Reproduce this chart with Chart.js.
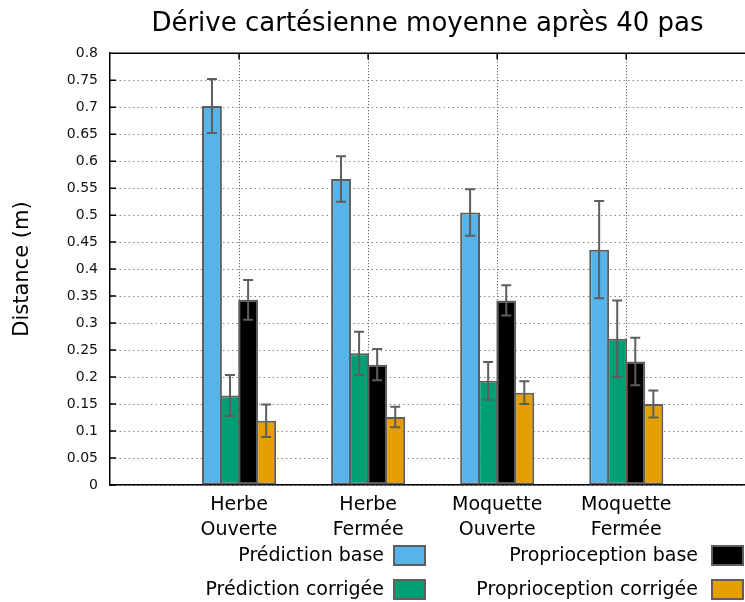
<!DOCTYPE html>
<html lang="fr">
<head>
<meta charset="utf-8">
<title>Dérive cartésienne moyenne</title>
<script src="https://cdn.jsdelivr.net/npm/chart.js@4"></script>
<style>
  body { margin: 0; background: #fff; }
  canvas { display: block; }
</style>
</head>
<body>
<canvas id="graphe" width="745" height="602"></canvas>
<script>
// terrains testés (une ligne par mot sous l'axe)
const terrains = [['Herbe', 'Ouverte'], ['Herbe', 'Fermée'], ['Moquette', 'Ouverte'], ['Moquette', 'Fermée']]
const positions = [0, 1, 2, 3]
const series = ['Prédiction base', 'Prédiction corrigée', 'Proprioception base', 'Proprioception corrigée']
const couleurs = ['#56b4e9', '#009e73', '#000000', '#e69f00']

// dérive moyenne en mètres et écart de chaque mesure
const predictionBase = [0.702, 0.567, 0.505, 0.436]
const predictionBaseErr = [0.050, 0.042, 0.043, 0.090]
const predictionCorrigee = [0.166, 0.244, 0.193, 0.271]
const predictionCorrigeeErr = [0.038, 0.040, 0.035, 0.071]
const proprioBase = [0.343, 0.223, 0.342, 0.229]
const proprioBaseErr = [0.037, 0.029, 0.028, 0.044]
const proprioCorrigee = [0.119, 0.126, 0.171, 0.150]
const proprioCorrigeeErr = [0.030, 0.019, 0.021, 0.025]

const graduations = ['0', '0.05', '0.1', '0.15', '0.2', '0.25', '0.3', '0.35', '0.4',
    '0.45', '0.5', '0.55', '0.6', '0.65', '0.7', '0.75', '0.8']

const valeurs = [predictionBase, predictionCorrigee, proprioBase, proprioCorrigee]
const erreurs = [predictionBaseErr, predictionCorrigeeErr, proprioBaseErr, proprioCorrigeeErr]

const police = 'DejaVu Sans'
const gris = '#5e5e5e'

// barres d'erreur par dessus chaque barre
const barresErreur = {
    id: 'barresErreur',
    afterDatasetsDraw(chart) {
        const ctx = chart.ctx
        const y = chart.scales.y
        ctx.save()
        ctx.strokeStyle = gris
        ctx.lineWidth = 2
        chart.data.datasets.forEach((ds, d) => {
            const meta = chart.getDatasetMeta(d)
            meta.data.forEach((barre, i) => {
                const v = valeurs[d][i]
                const e = erreurs[d][i]
                const haut = y.getPixelForValue(v + e)
                const bas = y.getPixelForValue(v - e)
                ctx.beginPath()
                ctx.moveTo(barre.x, haut)
                ctx.lineTo(barre.x, bas)
                ctx.moveTo(barre.x - 5, haut)
                ctx.lineTo(barre.x + 5, haut)
                ctx.moveTo(barre.x - 5, bas)
                ctx.lineTo(barre.x + 5, bas)
                ctx.stroke()
            })
        })
        ctx.restore()
    }
}

// cadre du haut et petites graduations intérieures
const cadre = {
    id: 'cadre',
    beforeDatasetsDraw(chart) {
        const ctx = chart.ctx
        const zone = chart.chartArea
        ctx.save()
        ctx.strokeStyle = '#000'
        ctx.lineWidth = 1.5
        ctx.beginPath()
        ctx.moveTo(zone.left, zone.top)
        ctx.lineTo(zone.right, zone.top)
        chart.scales.y.ticks.forEach(t => {
            const py = chart.scales.y.getPixelForValue(t.value)
            ctx.moveTo(zone.left, py)
            ctx.lineTo(zone.left + 6, py)
        })
        positions.forEach(p => {
            const px = chart.scales.x.getPixelForValue(p)
            ctx.moveTo(px, zone.top)
            ctx.lineTo(px, zone.top + 6)
        })
        ctx.stroke()
        ctx.restore()
    }
}

// légende en deux colonnes, texte à gauche de la case
const legende = {
    id: 'legende',
    afterDraw(chart) {
        const ctx = chart.ctx
        ctx.save()
        ctx.font = '19px "' + police + '"'
        ctx.textAlign = 'right'
        ctx.textBaseline = 'middle'
        chart.data.datasets.forEach((ds, i) => {
            const col = Math.floor(i / 2)
            const ligne = i % 2
            const bx = 393 + col * 318
            const by = 545 + ligne * 34
            ctx.fillStyle = '#000'
            ctx.fillText(ds.label, bx - 9 - col * 4, by + 11)
            ctx.fillStyle = ds.backgroundColor
            ctx.fillRect(bx, by, 33, 21)
            ctx.strokeStyle = gris
            ctx.lineWidth = 2
            ctx.strokeRect(bx + 1, by + 1, 31, 19)
        })
        ctx.restore()
    }
}

const ctx = document.getElementById('graphe')

const graphe = new Chart(ctx, {
    type: 'bar',
    data: {
        datasets: series.map((nom, d) => ({
            label: nom,
            data: valeurs[d].map((v, i) => ({ x: positions[i], y: v })),
            backgroundColor: couleurs[d],
            borderColor: gris,
            borderWidth: 2,
            borderSkipped: false,
            categoryPercentage: 0.56,
            barPercentage: 1.1
        }))
    },
    options: {
        responsive: false,
        animation: false,
        devicePixelRatio: 1,
        layout: { padding: 0 },
        plugins: {
            legend: { display: false },
            tooltip: { enabled: false },
            title: {
                display: true,
                fullSize: false,
                text: 'Dérive cartésienne moyenne après 40 pas',
                color: '#000',
                font: { family: police, size: 26, weight: 'normal' },
                padding: { top: 9, bottom: 13 }
            }
        },
        scales: {
            x: {
                type: 'linear',
                offset: false,
                min: -1,
                max: 3.92,
                afterBuildTicks: scale => {
                    scale.ticks = positions.map(p => ({ value: p }))
                },
                afterFit: scale => { scale.height = 117 },
                ticks: {
                    callback: (v) => terrains[v],
                    color: '#000',
                    font: { family: police, size: 19, lineHeight: 1.3 },
                    padding: 8,
                    maxRotation: 0,
                    autoSkip: false
                },
                grid: { color: '#444', lineWidth: 1, drawTicks: false, offset: false },
                border: { display: true, color: '#000', width: 1.5, dash: [1, 2] }
            },
            y: {
                min: 0,
                max: 0.8,
                afterFit: scale => { scale.width = 110 },
                ticks: {
                    stepSize: 0.05,
                    callback: (v, i) => graduations[i],
                    color: '#111',
                    font: { family: police, size: 14 },
                    padding: 12
                },
                grid: { color: '#888', lineWidth: 1, drawTicks: false },
                border: { display: true, color: '#000', width: 1.5, dash: [1.5, 3] },
                title: {
                    display: true,
                    text: 'Distance (m)',
                    color: '#000',
                    font: { family: police, size: 21 },
                    padding: { top: 10, bottom: 0 }
                }
            }
        }
    },
    plugins: [cadre, barresErreur, legende]
})
</script>
</body>
</html>
